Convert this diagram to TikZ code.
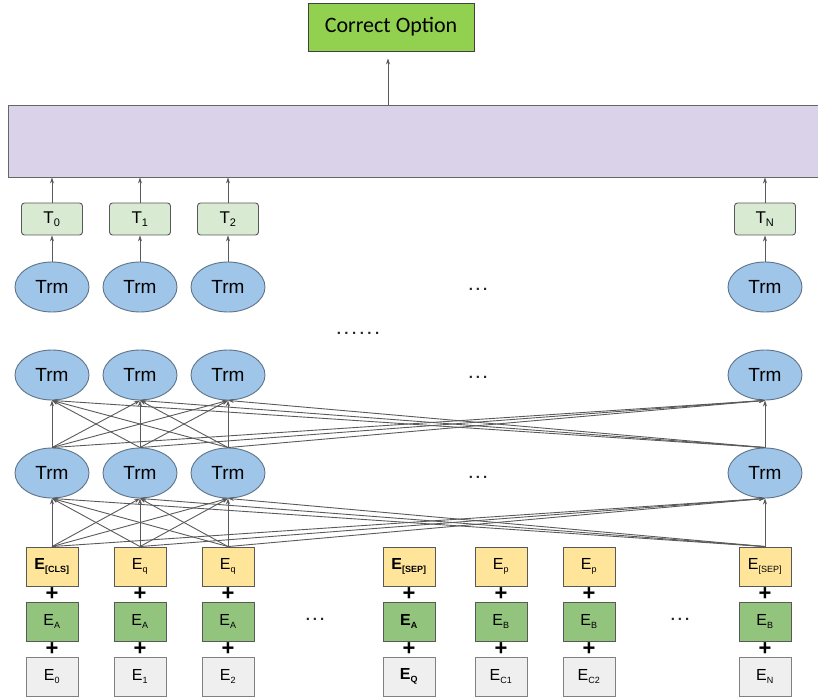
\documentclass[tikz,border=0pt]{standalone}
\usepackage{fontspec}
\setmainfont{Liberation Sans}
\newfontfamily\calibrilike{Carlito}
\usetikzlibrary{arrows.meta,shapes.geometric,calc}

\definecolor{optgreen}{HTML}{92D050}
\definecolor{headfill}{HTML}{D9D2E9}
\definecolor{tokfill}{HTML}{D9EAD3}
\definecolor{trmfill}{HTML}{9FC5E8}
\definecolor{trmline}{HTML}{5E7389}
\definecolor{segyellow}{HTML}{FFE599}
\definecolor{seggreen}{HTML}{93C47D}
\definecolor{posgrey}{HTML}{EFEFEF}
\definecolor{wire}{HTML}{5A5A5A}

\tikzset{
  arr/.style={draw=wire, line width=0.9pt, -{Stealth[length=6pt,width=4pt]}},
  optbox/.style={rectangle, draw=black!75, line width=0.9pt, fill=optgreen,
    minimum width=166pt, minimum height=48pt, font=\calibrilike\fontsize{22}{24}\selectfont},
  headbox/.style={rectangle, draw=black!60, line width=0.9pt, fill=headfill,
    minimum width=820pt, minimum height=72pt},
  tokbox/.style={rectangle, rounded corners=3pt, draw=black!65, line width=0.9pt, fill=tokfill,
    minimum width=61pt, minimum height=32pt, font=\fontsize{17}{19}\selectfont},
  trm/.style={ellipse, draw=trmline, line width=0.9pt, fill=trmfill,
    minimum width=74pt, minimum height=50pt, inner sep=0pt,
    font=\fontsize{19}{21}\selectfont},
  ebox/.style={rectangle, line width=0.9pt, minimum width=52pt, minimum height=39pt,
    inner sep=0pt, font=\fontsize{16}{18}\selectfont},
  tokemb/.style={ebox, fill=segyellow, draw=black!65},
  segemb/.style={ebox, fill=seggreen, draw=black!65},
  posemb/.style={ebox, fill=posgrey, draw=black!50},
  plus/.style={inner sep=0pt, font=\bfseries\fontsize{22}{22}\selectfont},
  dots/.style={inner sep=0pt, font=\bfseries\fontsize{15}{15}\selectfont, text=black!85},
}
\newcommand\Esub[1]{E\textsubscript{\fontsize{9}{10}\selectfont #1}}
\newcommand\Ebold[1]{\textbf{E}\textsubscript{\fontsize{9}{10}\selectfont\bfseries #1}}
\newcommand\Tsub[1]{T\textsubscript{\fontsize{11}{12}\selectfont #1}}
\newcommand\trio{.\kern3pt.\kern3pt.}
\newcommand\sextet{.\kern3.5pt.\kern3.5pt.\kern3.5pt.\kern3.5pt.\kern3.5pt.}

\begin{document}
\begin{tikzpicture}[x=1pt,y=-1pt]
\useasboundingbox (0,0) rectangle (818,700);

% output and classification head
\node[optbox] (opt) at (391,27) {Correct Option};
\node[headbox] (head) at (418,141) {};
\draw[arr, shorten >=7pt] (head.north -| 388,0) -- (opt.south -| 388,0);

% final hidden states
\foreach \n/\x/\lab in {0/52/0, 1/140/1, 2/228/2, N/765/N}{
  \node[tokbox] (T\n) at (\x,219) {\Tsub{\lab}};
  \node[trm] (top\n) at (\x,287) {Trm};
  \node[trm] (mid\n) at (\x,375) {Trm};
  \node[trm] (low\n) at (\x,473) {Trm};
  \draw[arr] (T\n.north) -- (T\n.north |- head.south);
  \draw[arr] (top\n.north) -- (T\n.south);
}

% ellipses between columns
\node[dots] (d1) at (478,289) {\trio};
\node[dots] (d2) at (478,377) {\trio};
\node[dots] (d3) at (478,477) {\trio};
\node[dots] (d4) at (358,333) {\sextet};

% input embeddings: token, segment, position
\foreach \c/\x/\tok/\seg/\pos in {
  0/52/{\Ebold{[CLS]}}/{\Esub{A}}/{\Esub{0}},
  1/140/{\Esub{q}}/{\Esub{A}}/{\Esub{1}},
  2/228/{\Esub{q}}/{\Esub{A}}/{\Esub{2}},
  3/409/{\Ebold{[SEP]}}/{\Ebold{A}}/{\Ebold{Q}},
  4/501/{\Esub{p}}/{\Esub{B}}/{\Esub{C1}},
  5/589/{\Esub{p}}/{\Esub{B}}/{\Esub{C2}},
  N/765/{\Esub{[SEP]}}/{\Esub{B}}/{\Esub{N}}}{
  \node[tokemb] (tok\c) at (\x,566.5) {\tok};
  \node[segemb] (seg\c) at (\x,621.5) {\seg};
  \node[posemb] (pos\c) at (\x,676.5) {\pos};
  \node[plus] (pa\c) at ($(tok\c.south)!0.5!(seg\c.north)$) {+};
  \node[plus] (pb\c) at ($(seg\c.south)!0.5!(pos\c.north)$) {+};
}
\node[dots] (d5) at (315,619) {\trio};
\node[dots] (d6) at (680,619) {\trio};

% fully connected attention wiring
\foreach \s in {0,1,2,N}{
  \foreach \t in {0,1,2,N}{
    \draw[arr] (tok\s.north) -- (low\t.south);
    \draw[arr] (low\s.north) -- (mid\t.south);
  }
}
\end{tikzpicture}
\end{document}
